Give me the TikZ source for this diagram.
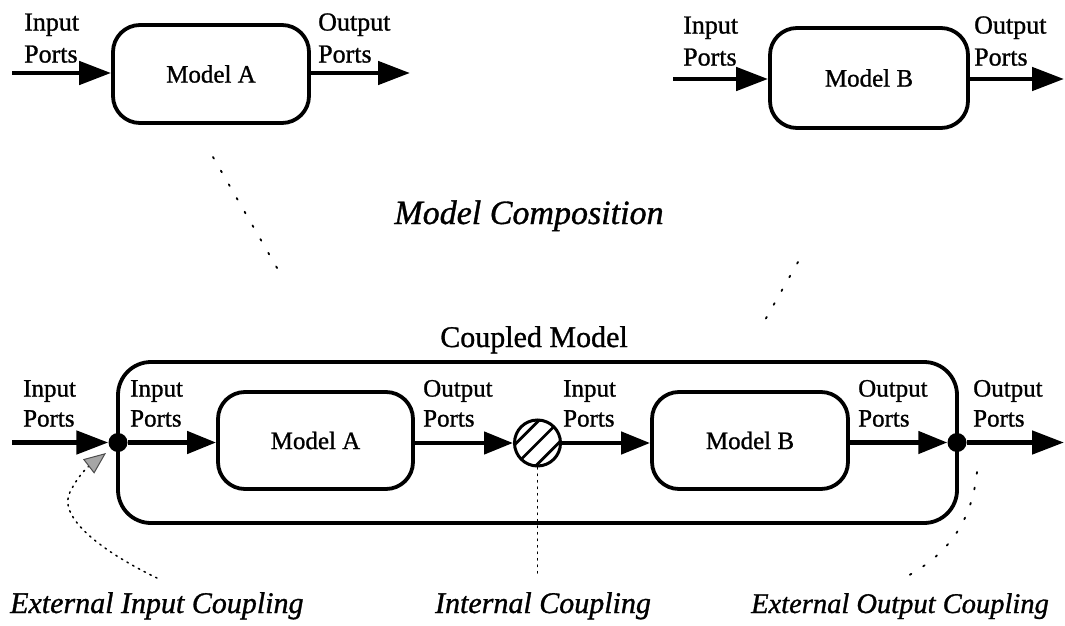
\documentclass[tikz,border=0pt]{standalone}
\usepackage{fontspec}
\setmainfont{Liberation Serif}[FakeBold=1.0]
\usetikzlibrary{arrows.meta,calc}
\tikzset{
  mbox/.style={draw,line width=3.8pt,rounded corners=27pt,font=\fontsize{25}{30}\selectfont,inner sep=0pt},
  outerbox/.style={draw,line width=3.8pt,rounded corners=33pt,inner sep=0pt},
  lbltop/.style={font=\fontsize{26}{32}\selectfont,align=left,inner sep=0pt,anchor=south west},
  lbl/.style={font=\fontsize{25}{30}\selectfont,align=left,inner sep=0pt,anchor=south west},
  ital/.style={font=\fontsize{30}{34}\selectfont\itshape,inner sep=0pt},
  arr/.style={line width=4.8pt,-{Triangle[length=32pt,width=23pt]}},
  arrin/.style={line width=4.6pt,-{Triangle[length=29pt,width=22pt]}},
  dotn/.style={circle,fill=black,inner sep=0pt,minimum size=19pt},
  leader/.style={line width=1.5pt,dash pattern=on 1.5pt off 5pt,line cap=round},
  sparse/.style={line width=1.8pt,dash pattern=on 1.8pt off 14pt,line cap=round},
}
\begin{document}
\begin{tikzpicture}[x=1pt,y=-1pt]
\useasboundingbox (0,0) rectangle (1065,626);
% ---------- top left ----------
\node[mbox,minimum width=196pt,minimum height=98pt] (A1) at (211,74) {Model A};
\coordinate (A1in) at (12,73);
\coordinate (A1out) at (410,73);
\draw[arr] (A1in) -- (A1.west |- A1in);
\draw[arr] (A1.east |- A1out) -- (A1out);
\node[lbltop] (A1il) at (24,63) {Input\\Ports};
\node[lbltop] (A1ol) at (318,63) {Output\\Ports};
% ---------- top right ----------
\node[mbox,minimum width=198pt,minimum height=100pt] (B1) at (869,78) {Model B};
\coordinate (B1in) at (673,79);
\coordinate (B1out) at (1064,79);
\draw[arr] (B1in) -- (B1.west |- B1in);
\draw[arr] (B1.east |- B1out) -- (B1out);
\node[lbltop] (B1il) at (683,66) {Input\\Ports};
\node[lbltop] (B1ol) at (974,66) {Output\\Ports};
% ---------- title ----------
\node[ital,font=\fontsize{34}{38}\selectfont\itshape,anchor=base] (MC) at (529,224) {Model Composition};
% ---------- coupled model ----------
\node[outerbox,minimum width=839pt,minimum height=161pt] (CM) at (537.5,442.5) {};
\node[font=\fontsize{30}{34}\selectfont,inner sep=0pt,anchor=base] (CMl) at (534,347) {Coupled Model};
\node[mbox,minimum width=195pt,minimum height=97pt] (A2) at (315.5,440.5) {Model A};
\node[mbox,minimum width=196pt,minimum height=97pt] (B2) at (750,440.5) {Model B};
\node[dotn] (D1) at (118,442.5) {};
\node[dotn] (D2) at (957,442.5) {};
\node[circle,draw,line width=3pt,minimum size=46pt,inner sep=0pt] (IC) at (537.5,443) {};
\begin{scope}
  \clip (IC.center) circle (23pt);
  \foreach \o in {-15,0,15} {
    \draw[line width=2.8pt] ($(IC.center)+(-30+\o*0.7071,30+\o*0.7071)$) -- ++(60,-60);
  }
\end{scope}
\coordinate (Ein) at (12,442.5);
\coordinate (Eout) at (1064,442.5);
\draw[arr] (Ein) -- (D1.west);
\draw[arrin] (D1.east) -- (A2.west |- D1);
\draw[arrin] (A2.east |- IC) -- (IC.west);
\draw[arrin] (IC.east) -- (B2.west |- IC);
\draw[arrin] (B2.east |- D2) -- (D2.west);
\draw[arr] (D2.east) -- (Eout);
\node[lbl] (l1) at (23,427) {Input\\Ports};
\node[lbl] (l2) at (130,427) {Input\\Ports};
\node[lbl] (l3) at (423,427) {Output\\Ports};
\node[lbl] (l4) at (563,427) {Input\\Ports};
\node[lbl] (l5) at (858,427) {Output\\Ports};
\node[lbl] (l6) at (973,427) {Output\\Ports};
% ---------- bottom labels ----------
\node[ital,anchor=base west] (EIC) at (10,613) {External Input Coupling};
\node[ital,anchor=base] (ICl) at (543,613) {Internal Coupling};
\node[ital,font=\fontsize{28.5}{34}\selectfont\itshape,anchor=base east] (EOC) at (1049,613) {External Output Coupling};
% ---------- leaders ----------
\coordinate (eicEnd) at (157,578);
\draw[leader,-{Triangle[length=22pt,width=18pt,fill=black!35,color=black!70,line width=1pt]}] (eicEnd) .. controls (95,548) and (58,515) .. (70,492) .. controls (76,480) and (84,470) .. (106,453);
\coordinate (icEnd) at (537.5,578);
\draw[leader] (IC.south) -- (icEnd);
\coordinate (eocA) at (977,472);
\coordinate (eocB) at (900,580);
\draw[sparse] (eocA) .. controls (972,520) and (950,555) .. (eocB);
\coordinate (tlA) at (213,157);
\coordinate (tlB) at (284,280);
\draw[sparse] (tlA) -- (tlB);
\coordinate (trA) at (798,262);
\coordinate (trB) at (765,320);
\draw[sparse] (trA) -- (trB);
\end{tikzpicture}
\end{document}
